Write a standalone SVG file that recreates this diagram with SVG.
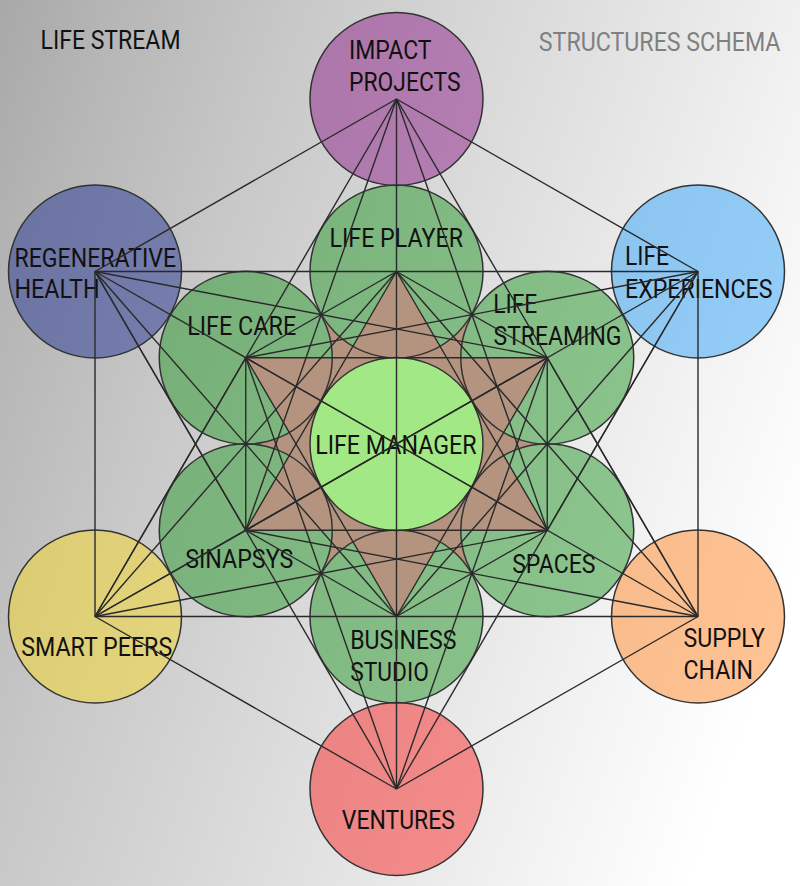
<svg xmlns="http://www.w3.org/2000/svg" xmlns:xlink="http://www.w3.org/1999/xlink" width="800" height="886" viewBox="0 0 800 886">
<defs>
<linearGradient id="bg" gradientUnits="userSpaceOnUse" x1="0" y1="0" x2="891" y2="312">
<stop offset="0" stop-color="#a8a8a8"/>
<stop offset="0.12" stop-color="#b6b6b6"/>
<stop offset="0.3" stop-color="#c8c8c8"/>
<stop offset="0.5" stop-color="#d8d8d8"/>
<stop offset="0.7" stop-color="#e8e8e8"/>
<stop offset="0.85" stop-color="#f4f4f4"/>
<stop offset="1" stop-color="#ffffff"/>
</linearGradient>
<style>
.ring{stroke:#333;stroke-width:1.5}
.inner{fill:none}
.green{fill:#28982c;fill-opacity:0.5;stroke:none}
.under{fill:url(#bg);stroke:none}
.brown{fill:#b4947f;stroke:none}
#connectors line{stroke:#2a2a2a;stroke-width:1.4}
text{font-family:Roboto,"Liberation Sans",sans-serif;font-size:26px;fill:#111}
.title2{fill:#808080}
</style>
</defs>
<rect width="800" height="886" fill="url(#bg)"/>
<g id="fills">
<polygon class="brown" points="396.5,271.5 547.25,357.75 547.25,530.25 396.5,616.5 245.75,530.25 245.75,357.75"/>
<circle class="under" cx="396.5" cy="271.5" r="86.5"/><circle class="green" cx="396.5" cy="271.5" r="86.5"/>
<circle class="under" cx="547.25" cy="357.75" r="86.5"/><circle class="green" cx="547.25" cy="357.75" r="86.5"/>
<circle class="under" cx="547.25" cy="530.25" r="86.5"/><circle class="green" cx="547.25" cy="530.25" r="86.5"/>
<circle class="under" cx="396.5" cy="616.5" r="86.5"/><circle class="green" cx="396.5" cy="616.5" r="86.5"/>
<circle class="under" cx="245.75" cy="530.25" r="86.5"/><circle class="green" cx="245.75" cy="530.25" r="86.5"/>
<circle class="under" cx="245.75" cy="357.75" r="86.5"/><circle class="green" cx="245.75" cy="357.75" r="86.5"/>
<polygon class="brown" points="396.5,271.5 547.25,530.25 245.75,530.25"/>
<polygon class="brown" points="245.75,357.75 547.25,357.75 396.5,616.5"/>
</g>
<g id="nodes">
<g id="impact-projects"><circle class="ring" cx="396.5" cy="99" r="86.5" fill="#8e228a" fill-opacity="0.5"/><text x="349" y="59" textLength="82.5" lengthAdjust="spacingAndGlyphs">IMPACT</text><text x="349" y="90.7" textLength="111.5" lengthAdjust="spacingAndGlyphs">PROJECTS</text></g>
<g id="life-experiences"><circle class="ring" cx="698" cy="271.5" r="86.5" fill="#32a2fa" fill-opacity="0.5"/><text x="625" y="265" textLength="44" lengthAdjust="spacingAndGlyphs">LIFE</text><text x="625" y="298.3" textLength="147.5" lengthAdjust="spacingAndGlyphs">EXPERIENCES</text></g>
<g id="supply-chain"><circle class="ring" cx="698" cy="616.5" r="86.5" fill="#ff8828" fill-opacity="0.5"/><text x="683.5" y="646.7" textLength="81.5" lengthAdjust="spacingAndGlyphs">SUPPLY</text><text x="683.5" y="678.7" textLength="69.5" lengthAdjust="spacingAndGlyphs">CHAIN</text></g>
<g id="ventures"><circle class="ring" cx="396.5" cy="789" r="86.5" fill="#fa2a2a" fill-opacity="0.5"/><text x="341.8" y="829.3" textLength="113" lengthAdjust="spacingAndGlyphs">VENTURES</text></g>
<g id="smart-peers"><circle class="ring" cx="95" cy="616.5" r="86.5" fill="#f8d828" fill-opacity="0.5"/><text x="21.2" y="655.7" textLength="151" lengthAdjust="spacingAndGlyphs">SMART PEERS</text></g>
<g id="regenerative-health"><circle class="ring" cx="95" cy="271.5" r="86.5" fill="#243494" fill-opacity="0.5"/><text x="14.5" y="266.7" textLength="161.5" lengthAdjust="spacingAndGlyphs">REGENERATIVE</text><text x="14.5" y="297.5" textLength="85" lengthAdjust="spacingAndGlyphs">HEALTH</text></g>
<g id="life-player"><circle class="ring inner" cx="396.5" cy="271.5" r="86.5"/><text x="329.5" y="246.7" textLength="133.5" lengthAdjust="spacingAndGlyphs">LIFE PLAYER</text></g>
<g id="life-streaming"><circle class="ring inner" cx="547.25" cy="357.75" r="86.5"/><text x="493.3" y="312.7" textLength="44" lengthAdjust="spacingAndGlyphs">LIFE</text><text x="493.5" y="344.7" textLength="128" lengthAdjust="spacingAndGlyphs">STREAMING</text></g>
<g id="spaces"><circle class="ring inner" cx="547.25" cy="530.25" r="86.5"/><text x="512.2" y="572.7" textLength="83.3" lengthAdjust="spacingAndGlyphs">SPACES</text></g>
<g id="business-studio"><circle class="ring inner" cx="396.5" cy="616.5" r="86.5"/><text x="350.2" y="649.3" textLength="106.3" lengthAdjust="spacingAndGlyphs">BUSINESS</text><text x="350.2" y="681" textLength="78.6" lengthAdjust="spacingAndGlyphs">STUDIO</text></g>
<g id="sinapsys"><circle class="ring inner" cx="245.75" cy="530.25" r="86.5"/><text x="185.2" y="568.3" textLength="108" lengthAdjust="spacingAndGlyphs">SINAPSYS</text></g>
<g id="life-care"><circle class="ring inner" cx="245.75" cy="357.75" r="86.5"/><text x="187.2" y="335" textLength="109" lengthAdjust="spacingAndGlyphs">LIFE CARE</text></g>
<g id="life-manager"><circle class="ring" cx="396.5" cy="444" r="86.5" fill="#a2e884"/><text x="315.2" y="454" textLength="161.3" lengthAdjust="spacingAndGlyphs">LIFE MANAGER</text></g>
</g>
<g id="connectors">
<line x1="396.5" y1="444" x2="396.5" y2="99"/>
<line x1="396.5" y1="444" x2="698" y2="271.5"/>
<line x1="396.5" y1="444" x2="698" y2="616.5"/>
<line x1="396.5" y1="444" x2="396.5" y2="789"/>
<line x1="396.5" y1="444" x2="95" y2="616.5"/>
<line x1="396.5" y1="444" x2="95" y2="271.5"/>
<line x1="396.5" y1="99" x2="698" y2="271.5"/>
<line x1="396.5" y1="99" x2="698" y2="616.5"/>
<line x1="396.5" y1="99" x2="95" y2="616.5"/>
<line x1="396.5" y1="99" x2="95" y2="271.5"/>
<line x1="396.5" y1="99" x2="547.25" y2="530.25"/>
<line x1="396.5" y1="99" x2="245.75" y2="530.25"/>
<line x1="698" y1="271.5" x2="698" y2="616.5"/>
<line x1="698" y1="271.5" x2="396.5" y2="789"/>
<line x1="698" y1="271.5" x2="95" y2="271.5"/>
<line x1="698" y1="271.5" x2="547.25" y2="530.25"/>
<line x1="698" y1="271.5" x2="396.5" y2="616.5"/>
<line x1="698" y1="271.5" x2="245.75" y2="357.75"/>
<line x1="698" y1="616.5" x2="396.5" y2="789"/>
<line x1="698" y1="616.5" x2="95" y2="616.5"/>
<line x1="698" y1="616.5" x2="547.25" y2="357.75"/>
<line x1="698" y1="616.5" x2="396.5" y2="271.5"/>
<line x1="698" y1="616.5" x2="245.75" y2="530.25"/>
<line x1="396.5" y1="789" x2="95" y2="616.5"/>
<line x1="396.5" y1="789" x2="95" y2="271.5"/>
<line x1="396.5" y1="789" x2="547.25" y2="357.75"/>
<line x1="396.5" y1="789" x2="245.75" y2="357.75"/>
<line x1="95" y1="616.5" x2="95" y2="271.5"/>
<line x1="95" y1="616.5" x2="396.5" y2="271.5"/>
<line x1="95" y1="616.5" x2="547.25" y2="357.75"/>
<line x1="95" y1="616.5" x2="547.25" y2="530.25"/>
<line x1="95" y1="616.5" x2="245.75" y2="357.75"/>
<line x1="95" y1="271.5" x2="547.25" y2="357.75"/>
<line x1="95" y1="271.5" x2="396.5" y2="616.5"/>
<line x1="95" y1="271.5" x2="245.75" y2="530.25"/>
<line x1="396.5" y1="271.5" x2="547.25" y2="357.75"/>
<line x1="396.5" y1="271.5" x2="547.25" y2="530.25"/>
<line x1="396.5" y1="271.5" x2="245.75" y2="530.25"/>
<line x1="396.5" y1="271.5" x2="245.75" y2="357.75"/>
<line x1="547.25" y1="357.75" x2="547.25" y2="530.25"/>
<line x1="547.25" y1="357.75" x2="396.5" y2="616.5"/>
<line x1="547.25" y1="357.75" x2="245.75" y2="530.25"/>
<line x1="547.25" y1="357.75" x2="245.75" y2="357.75"/>
<line x1="547.25" y1="530.25" x2="396.5" y2="616.5"/>
<line x1="547.25" y1="530.25" x2="245.75" y2="530.25"/>
<line x1="547.25" y1="530.25" x2="245.75" y2="357.75"/>
<line x1="396.5" y1="616.5" x2="245.75" y2="530.25"/>
<line x1="396.5" y1="616.5" x2="245.75" y2="357.75"/>
<line x1="245.75" y1="530.25" x2="245.75" y2="357.75"/>
</g>
<g id="titles">
<text x="40.5" y="49.3" textLength="140" lengthAdjust="spacingAndGlyphs">LIFE STREAM</text>
<text class="title2" x="538.8" y="50.7" textLength="241.7" lengthAdjust="spacingAndGlyphs">STRUCTURES SCHEMA</text>
</g>
</svg>
